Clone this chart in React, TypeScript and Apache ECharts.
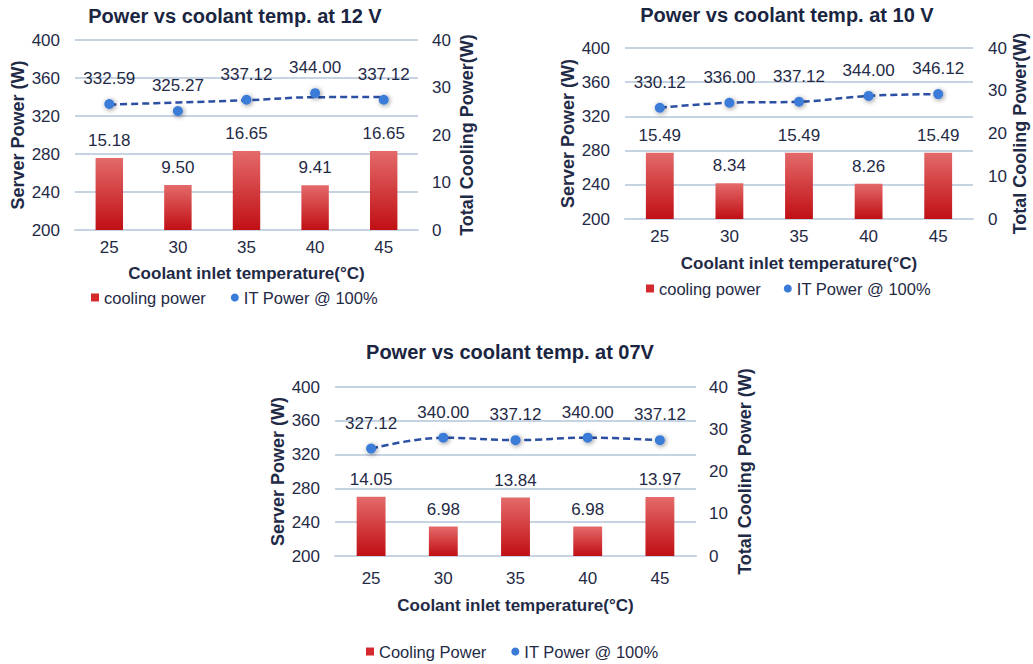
import React, { useEffect, useRef } from 'react';
import * as echarts from 'echarts';

// ---- data ----
const categories = ['25', '30', '35', '40', '45'];
const serverPowerTicks = [200, 240, 280, 320, 360, 400];
const coolingTicks = [0, 10, 20, 30, 40];

const cooling12 = [15.18, 9.5, 16.65, 9.41, 16.65];
const it12 = [332.59, 325.27, 337.12, 344.0, 337.12];
const trend12 = [332.0, 334.2, 336.6, 339.8, 340.0];

const cooling10 = [15.49, 8.34, 15.49, 8.26, 15.49];
const it10 = [330.12, 336.0, 337.12, 344.0, 346.12];

const cooling07 = [14.05, 6.98, 13.84, 6.98, 13.97];
const it07 = [327.12, 340.0, 337.12, 340.0, 337.12];

const titles = ['Power vs coolant temp. at 12 V', 'Power vs coolant temp. at 10 V', 'Power vs coolant temp. at 07V'];
const barNames = ['cooling power', 'cooling power', 'Cooling Power'];
const lineName = 'IT Power @ 100%';
const leftAxisName = 'Server Power (W)';
const rightAxisNames = ['Total Cooling Power(W)', 'Total Cooling Power(W)', 'Total Cooling Power (W)'];
const xAxisName = 'Coolant inlet temperature(°C)';

const panelsData = [
  { cooling: cooling12, it: it12, trend: trend12 },
  { cooling: cooling10, it: it10, trend: it10 },
  { cooling: cooling07, it: it07, trend: it07 },
];

// ---- layout ----
const layouts = [
  { left: 75, top: 40, width: 343, height: 190, titleX: 235, titleY: 6, legendX: 91, legendY: 289, legendGap: 25, xLabelMargin: 9, xNameGap: 35, rightNameGap: 40, rightLabelMargin: 14 },
  { left: 625, top: 48, width: 348, height: 171, titleX: 787, titleY: 5, legendX: 646, legendY: 280, legendGap: 23, xLabelMargin: 9, xNameGap: 36, rightNameGap: 38, rightLabelMargin: 15 },
  { left: 335, top: 387, width: 361, height: 169, titleX: 510, titleY: 342, legendX: 366, legendY: 643, legendGap: 25, xLabelMargin: 14, xNameGap: 41, rightNameGap: 40, rightLabelMargin: 13 },
];

const FONT = "'Liberation Sans', Arial, sans-serif";
const TEXT = '#1f2a46';
const GRID = '#c6d3e2';

export default function App() {
  const ref = useRef<HTMLDivElement>(null);

  useEffect(() => {
    if (!ref.current) return;
    const chart = echarts.init(ref.current, undefined, { renderer: 'svg' });

    const barColor = new echarts.graphic.LinearGradient(0, 0, 0, 1, [
      { offset: 0, color: '#e46a6a' },
      { offset: 1, color: '#c00f14' },
    ]);

    const title: any[] = [];
    const legend: any[] = [];
    const grid: any[] = [];
    const xAxis: any[] = [];
    const yAxis: any[] = [];
    const series: any[] = [];

    layouts.forEach((L, i) => {
      const d = panelsData[i];
      title.push({
        text: titles[i],
        left: L.titleX,
        top: L.titleY,
        textAlign: 'center',
        padding: 0,
        textStyle: { fontFamily: FONT, fontSize: 20, fontWeight: 'bold', color: '#1a2541' },
      });
      legend.push({
        left: L.legendX,
        top: L.legendY,
        padding: 0,
        itemWidth: 8,
        itemHeight: 8,
        itemGap: L.legendGap,
        textStyle: { fontFamily: FONT, fontSize: 16.5, color: TEXT },
        data: [
          { name: barNames[i], icon: 'rect', itemStyle: { color: '#d42a2e' } },
          { name: lineName, icon: 'circle', itemStyle: { color: '#3a7bd8' } },
        ],
      });
      grid.push({ left: L.left, top: L.top, width: L.width, height: L.height });
      xAxis.push({
        type: 'category',
        gridIndex: i,
        data: categories,
        name: xAxisName,
        nameLocation: 'middle',
        nameGap: L.xNameGap,
        nameTextStyle: { fontFamily: FONT, fontSize: 17, fontWeight: 'bold', color: TEXT },
        axisLine: { show: true, lineStyle: { color: GRID, width: 2 } },
        axisTick: { show: false },
        axisLabel: { fontFamily: FONT, fontSize: 17, color: TEXT, margin: L.xLabelMargin },
      });
      yAxis.push({
        type: 'value',
        gridIndex: i,
        position: 'left',
        min: serverPowerTicks[0],
        max: serverPowerTicks[serverPowerTicks.length - 1],
        interval: serverPowerTicks[1] - serverPowerTicks[0],
        name: leftAxisName,
        nameLocation: 'middle',
        nameGap: 48,
        nameTextStyle: { fontFamily: FONT, fontSize: 18, fontWeight: 'bold', color: TEXT },
        axisLine: { show: false },
        axisTick: { show: false },
        axisLabel: { fontFamily: FONT, fontSize: 17, color: TEXT, margin: 15 },
        splitLine: { show: true, lineStyle: { color: GRID, width: 2 } },
      });
      yAxis.push({
        type: 'value',
        gridIndex: i,
        position: 'right',
        min: coolingTicks[0],
        max: coolingTicks[coolingTicks.length - 1],
        interval: coolingTicks[1] - coolingTicks[0],
        name: rightAxisNames[i],
        nameLocation: 'middle',
        nameGap: L.rightNameGap,
        nameTextStyle: { fontFamily: FONT, fontSize: 18, fontWeight: 'bold', color: TEXT },
        axisLine: { show: false },
        axisTick: { show: false },
        axisLabel: { fontFamily: FONT, fontSize: 17, color: TEXT, margin: L.rightLabelMargin },
        splitLine: { show: false },
      });
      series.push({
        type: 'bar',
        name: barNames[i],
        xAxisIndex: i,
        yAxisIndex: i * 2 + 1,
        data: d.cooling,
        barWidth: '40%',
        itemStyle: { color: barColor },
        label: {
          show: true,
          position: 'top',
          distance: 9,
          fontFamily: FONT,
          fontSize: 17,
          color: TEXT,
          formatter: (p: any) => Number(p.value).toFixed(2),
        },
      });
      series.push({
        type: 'line',
        name: 'trend',
        xAxisIndex: i,
        yAxisIndex: i * 2,
        data: d.trend,
        smooth: 0.4,
        showSymbol: false,
        symbol: 'none',
        silent: true,
        lineStyle: { color: '#2b4fa3', width: 2.5, type: [7, 4] },
        z: 3,
      });
      series.push({
        type: 'line',
        name: lineName,
        xAxisIndex: i,
        yAxisIndex: i * 2,
        data: d.it,
        symbol: 'circle',
        symbolSize: 10,
        lineStyle: { opacity: 0 },
        itemStyle: {
          color: '#3a7bd8',
          shadowBlur: 5,
          shadowColor: 'rgba(0,0,0,0.45)',
          shadowOffsetX: 1,
          shadowOffsetY: 1,
        },
        label: {
          show: true,
          position: 'top',
          distance: 12,
          fontFamily: FONT,
          fontSize: 17,
          color: TEXT,
          formatter: (p: any) => Number(p.value).toFixed(2),
        },
        z: 4,
      });
    });

    chart.setOption({
      animation: false,
      backgroundColor: '#ffffff',
      textStyle: { fontFamily: FONT },
      title,
      legend,
      grid,
      xAxis,
      yAxis,
      series,
    });

    return () => chart.dispose();
  }, []);

  return (
    <div
      ref={ref}
      style={{ position: 'absolute', left: 0, top: 0, width: 1033, height: 664 }}
    />
  );
}
